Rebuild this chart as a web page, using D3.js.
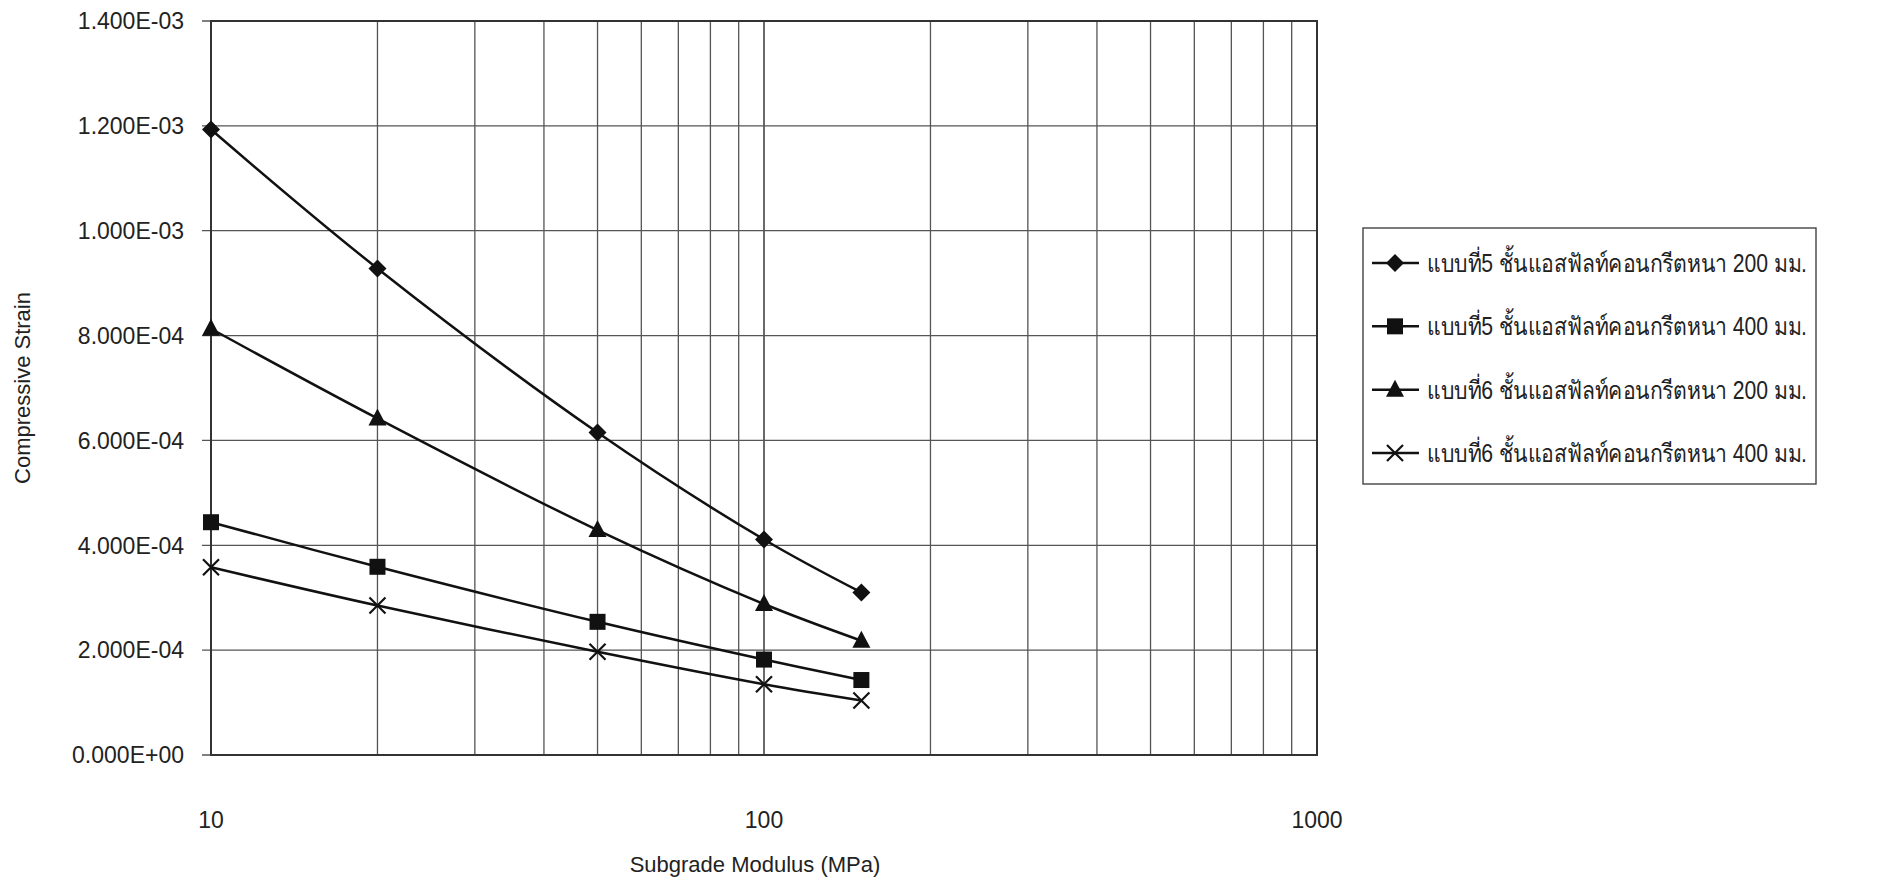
<!DOCTYPE html>
<html>
<head>
<meta charset="utf-8">
<script src="https://cdn.jsdelivr.net/npm/d3@7"></script>
<style>
  body { margin: 0; background: #fff; }
  svg { display: block; }
  text { font-family: "Liberation Sans", Arial, sans-serif; fill: #222; }
  .legend text { font-family: "Liberation Sans", "Noto Sans", "DejaVu Sans", sans-serif; }
</style>
</head>
<body>
<div id="chart"></div>
<script>
// data
var modulus = [10, 20, 50, 100, 150];
var seriesNames = [
  "แบบที่5 ชั้นแอสฟัลท์คอนกรีตหนา 200 มม.",
  "แบบที่5 ชั้นแอสฟัลท์คอนกรีตหนา 400 มม.",
  "แบบที่6 ชั้นแอสฟัลท์คอนกรีตหนา 200 มม.",
  "แบบที่6 ชั้นแอสฟัลท์คอนกรีตหนา 400 มม."
];
var type5_200 = [1.193e-3, 0.928e-3, 0.615e-3, 0.411e-3, 0.310e-3];
var type5_400 = [0.444e-3, 0.359e-3, 0.254e-3, 0.182e-3, 0.143e-3];
var type6_200 = [0.813e-3, 0.642e-3, 0.429e-3, 0.288e-3, 0.218e-3];
var type6_400 = [0.358e-3, 0.285e-3, 0.197e-3, 0.135e-3, 0.104e-3];
var markers = ["diamond", "square", "triangle", "cross"];
var yTicks = [0, 2e-4, 4e-4, 6e-4, 8e-4, 1e-3, 1.2e-3, 1.4e-3];
var xTicks = [10, 100, 1000];

var allSeries = [type5_200, type5_400, type6_200, type6_400];

var W = 1904, H = 893;
var pLeft = 211, pRight = 1317, pTop = 21, pBottom = 755;

var svg = d3.select("#chart").append("svg")
  .attr("width", W)
  .attr("height", H);

var x = d3.scaleLog().domain([10, 1000]).range([pLeft, pRight]);
var y = d3.scaleLinear().domain([0, 1.4e-3]).range([pBottom, pTop]);

// grid: every 1..10 of each decade
var minorX = [];
for (var dec = 10; dec < 1000; dec *= 10) {
  for (var k = 1; k <= 10; k++) minorX.push(dec * k);
}
svg.append("g").selectAll("line")
  .data(minorX)
  .enter().append("line")
  .attr("x1", function(d) { return x(d); })
  .attr("x2", function(d) { return x(d); })
  .attr("y1", pTop).attr("y2", pBottom)
  .attr("stroke", "#555").attr("stroke-width", 1.3);

svg.append("g").selectAll("line")
  .data(yTicks)
  .enter().append("line")
  .attr("x1", pLeft - 9).attr("x2", pRight)
  .attr("y1", function(d) { return y(d); })
  .attr("y2", function(d) { return y(d); })
  .attr("stroke", "#555").attr("stroke-width", 1.3);

// frame
svg.append("rect")
  .attr("x", pLeft).attr("y", pTop)
  .attr("width", pRight - pLeft).attr("height", pBottom - pTop)
  .attr("fill", "none").attr("stroke", "#333").attr("stroke-width", 2);

// y tick labels
svg.append("g").selectAll("text")
  .data(yTicks)
  .enter().append("text")
  .attr("x", 184)
  .attr("y", function(d) { return y(d); })
  .attr("dy", "0.36em")
  .attr("text-anchor", "end")
  .style("font-size", "23px")
  .text(function(d) {
    var s = d.toExponential(3).toUpperCase();
    var m = s.split("E");
    var e = parseInt(m[1], 10);
    var sign = e < 0 ? "-" : "+";
    var ab = Math.abs(e);
    return m[0] + "E" + sign + (ab < 10 ? "0" + ab : ab);
  });

// x tick labels
svg.append("g").selectAll("text")
  .data(xTicks)
  .enter().append("text")
  .attr("x", function(d) { return x(d); })
  .attr("y", 820)
  .attr("dy", "0.36em")
  .attr("text-anchor", "middle")
  .style("font-size", "23px")
  .text(function(d) { return d; });

// axis titles
svg.append("text")
  .attr("x", 755).attr("y", 864)
  .attr("dy", "0.36em")
  .attr("text-anchor", "middle")
  .style("font-size", "22px")
  .text("Subgrade Modulus (MPa)");

svg.append("text")
  .attr("transform", "translate(22,388) rotate(-90)")
  .attr("dy", "0.36em")
  .attr("text-anchor", "middle")
  .style("font-size", "22px")
  .text("Compressive Strain");

// lines
var line = d3.line()
  .x(function(d, i) { return x(modulus[i]); })
  .y(function(d) { return y(d); })
  .curve(d3.curveCatmullRom.alpha(0.5));

svg.append("g").selectAll("path")
  .data(allSeries)
  .enter().append("path")
  .attr("d", line)
  .attr("fill", "none")
  .attr("stroke", "#111")
  .attr("stroke-width", 2.5);

function drawMarker(g, type, cx, cy) {
  if (type === "diamond") {
    g.append("path")
      .attr("d", "M" + cx + "," + (cy - 9) + "L" + (cx + 9) + "," + cy + "L" + cx + "," + (cy + 9) + "L" + (cx - 9) + "," + cy + "Z")
      .attr("fill", "#111");
  } else if (type === "square") {
    g.append("rect")
      .attr("x", cx - 8).attr("y", cy - 8)
      .attr("width", 16).attr("height", 16)
      .attr("fill", "#111");
  } else if (type === "triangle") {
    g.append("path")
      .attr("d", "M" + cx + "," + (cy - 10) + "L" + (cx + 9) + "," + (cy + 7) + "L" + (cx - 9) + "," + (cy + 7) + "Z")
      .attr("fill", "#111");
  } else {
    g.append("path")
      .attr("d", "M" + (cx - 8) + "," + (cy - 8) + "L" + (cx + 8) + "," + (cy + 8) + "M" + (cx + 8) + "," + (cy - 8) + "L" + (cx - 8) + "," + (cy + 8))
      .attr("stroke", "#111").attr("stroke-width", 2.2).attr("fill", "none");
  }
}

var mg = svg.append("g");
allSeries.forEach(function(vals, s) {
  vals.forEach(function(v, i) {
    drawMarker(mg, markers[s], x(modulus[i]), y(v));
  });
});

// legend
var lg = svg.append("g").attr("class", "legend");
lg.append("rect")
  .attr("x", 1363).attr("y", 228)
  .attr("width", 453).attr("height", 256)
  .attr("fill", "#fff").attr("stroke", "#444").attr("stroke-width", 1.4);

var rowY = d3.scaleLinear().domain([0, 3]).range([263, 453]);
seriesNames.forEach(function(name, s) {
  var yy = rowY(s);
  lg.append("line")
    .attr("x1", 1372).attr("x2", 1419)
    .attr("y1", yy).attr("y2", yy)
    .attr("stroke", "#111").attr("stroke-width", 2.5);
  drawMarker(lg, markers[s], 1395, yy);
  lg.append("text")
    .attr("x", 1427).attr("y", yy)
    .attr("dy", "0.36em")
    .attr("textLength", 380)
    .attr("lengthAdjust", "spacingAndGlyphs")
    .style("font-size", "25px")
    .text(name);
});
</script>
</body>
</html>
